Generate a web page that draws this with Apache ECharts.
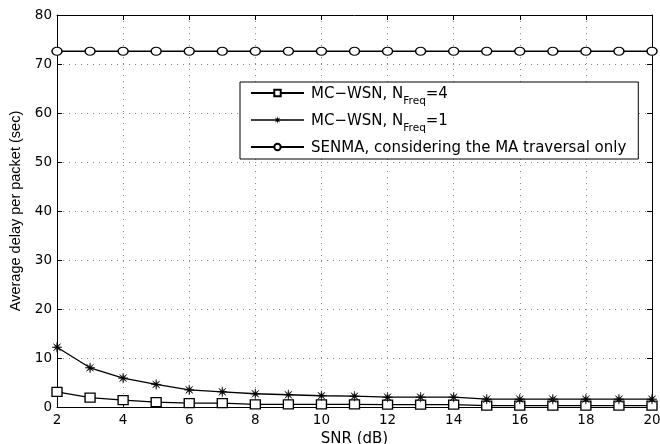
<!DOCTYPE html>
<html>
<head>
<meta charset="utf-8">
<script src="https://cdn.jsdelivr.net/npm/echarts@6/dist/echarts.min.js"></script>
<style>
  html, body { margin: 0; padding: 0; background: #fff; }
  #chart { width: 660px; height: 444px; }
</style>
</head>
<body>
<div id="chart"></div>
<script>
// SNR values (dB) on the x axis
const snr = [2, 3, 4, 5, 6, 7, 8, 9, 10, 11, 12, 13, 14, 15, 16, 17, 18, 19, 20];

// Average delay per packet (sec)
const mcwsnFreq4 = [3.1, 1.9, 1.4, 1.0, 0.8, 0.8, 0.55, 0.55, 0.55, 0.55, 0.5, 0.5, 0.5, 0.3, 0.3, 0.3, 0.3, 0.3, 0.3];
const mcwsnFreq1 = [12.2, 8.0, 5.9, 4.6, 3.5, 3.1, 2.7, 2.5, 2.3, 2.2, 2.0, 2.0, 2.0, 1.6, 1.6, 1.6, 1.6, 1.6, 1.6];
const senma = [72.6, 72.6, 72.6, 72.6, 72.6, 72.6, 72.6, 72.6, 72.6, 72.6, 72.6, 72.6, 72.6, 72.6, 72.6, 72.6, 72.6, 72.6, 72.6];

// Series names (N with subscript "Freq")
const seriesNames = ['MC-WSN, N_Freq=4', 'MC-WSN, N_Freq=1', 'SENMA, considering the MA traversal only'];

// 8-pointed thin star (asterisk) around (cx, cy)
function starPoints(cx, cy, ro, ri) {
  const pts = [];
  for (let k = 0; k < 16; k++) {
    const a = k * Math.PI / 8 - Math.PI / 2;
    const r = k % 2 === 0 ? ro : ri;
    pts.push((cx + r * Math.cos(a)).toFixed(2) + ' ' + (cy + r * Math.sin(a)).toFixed(2));
  }
  return 'M' + pts.join(' L') + ' Z';
}
const asteriskSymbol = 'path://' + starPoints(10, 10, 10, 2.4);
// legend icon: line segment with a small asterisk in the middle (53 x 8 box)
const asteriskLegendIcon = 'path://M0 3.2 L53 3.2 L53 4.8 L0 4.8 Z ' + starPoints(26.5, 4, 4, 1.4);

const FONT = 'DejaVu Sans, Verdana, sans-serif';
const chart = echarts.init(document.getElementById('chart'), null, { renderer: 'canvas' });

const toPairs = arr => arr.map((v, i) => [snr[i], v]);

const axisCommon = {
  axisLine: { show: true, onZero: false, lineStyle: { color: '#000', width: 1 } },
  axisTick: { show: true, inside: true, length: 5, lineStyle: { color: '#000' } }
};

const gridLine = { show: true, lineStyle: { color: '#888', type: [1, 5], width: 1 } };

chart.setOption({
  animation: false,
  backgroundColor: '#fff',
  grid: { left: 57, right: 8, top: 15, bottom: 37, containLabel: false, outerBoundsMode: 'none' },
  legend: {
    orient: 'vertical',
    left: 240,
    top: 82,
    padding: [5, 12, 3, 10],
    itemGap: 7,
    itemWidth: 53,
    itemHeight: 8,
    backgroundColor: '#fff',
    borderColor: '#000',
    borderWidth: 1,
    borderRadius: 0,
    data: [
      { name: seriesNames[0] },
      { name: seriesNames[1], icon: asteriskLegendIcon, itemStyle: { color: '#000', borderWidth: 0 } },
      { name: seriesNames[2] }
    ],
    formatter: name => {
      const m = name.match(/^(.*)N_Freq=(\d)$/);
      if (m) return '{t|' + m[1].replace('-', '\u2212') + 'N}{s|Freq}{t|=' + m[2] + '}';
      return '{t|' + name + '}';
    },
    textStyle: {
      color: '#000',
      fontFamily: FONT,
      fontSize: 15,
      padding: [0, 0, 0, 2],
      rich: {
        t: { fontSize: 15, fontFamily: FONT, color: '#000', verticalAlign: 'bottom', lineHeight: 18 },
        s: { fontSize: 10.5, fontFamily: FONT, color: '#000', verticalAlign: 'bottom', padding: [0, 0, -5, 0], lineHeight: 18 }
      }
    }
  },
  xAxis: [
    Object.assign({
      type: 'value', min: 2, max: 20, interval: 2, position: 'bottom',
      name: 'SNR (dB)', nameLocation: 'middle', nameGap: 19,
      nameTextStyle: { fontFamily: FONT, fontSize: 15, color: '#000' },
      axisLabel: { fontFamily: FONT, fontSize: 13.5, color: '#000', margin: 6 },
      splitLine: gridLine
    }, axisCommon),
    Object.assign({
      type: 'value', min: 2, max: 20, interval: 2, position: 'top',
      axisLabel: { show: false }, splitLine: { show: false }
    }, axisCommon)
  ],
  yAxis: [
    Object.assign({
      type: 'value', min: 0, max: 80, interval: 10, position: 'left',
      name: 'Average delay per packet (sec)', nameLocation: 'middle', nameGap: 30,
      nameTextStyle: { fontFamily: 'Liberation Sans, Arial, sans-serif', fontSize: 14.5, color: '#000' },
      axisLabel: { fontFamily: FONT, fontSize: 13.5, color: '#000', margin: 5 },
      splitLine: gridLine
    }, axisCommon),
    Object.assign({
      type: 'value', min: 0, max: 80, interval: 10, position: 'right',
      axisLabel: { show: false }, splitLine: { show: false }
    }, axisCommon)
  ],
  series: [
    {
      name: seriesNames[0], type: 'line', data: toPairs(mcwsnFreq4),
      symbol: 'rect', symbolSize: [10, 9], showAllSymbol: true,
      lineStyle: { color: '#000', width: 1.3 },
      itemStyle: { color: '#fff', borderColor: '#000', borderWidth: 1.3 }
    },
    {
      name: seriesNames[1], type: 'line', data: toPairs(mcwsnFreq1),
      symbol: asteriskSymbol, symbolSize: 10, showAllSymbol: true,
      lineStyle: { color: '#000', width: 1.3 },
      itemStyle: { color: '#000', borderColor: '#000', borderWidth: 0.5 }
    },
    {
      name: seriesNames[2], type: 'line', data: toPairs(senma),
      symbol: 'circle', symbolSize: [10, 8], showAllSymbol: true,
      lineStyle: { color: '#000', width: 1.3 },
      itemStyle: { color: '#fff', borderColor: '#000', borderWidth: 1.3 }
    }
  ]
});
</script>
</body>
</html>
